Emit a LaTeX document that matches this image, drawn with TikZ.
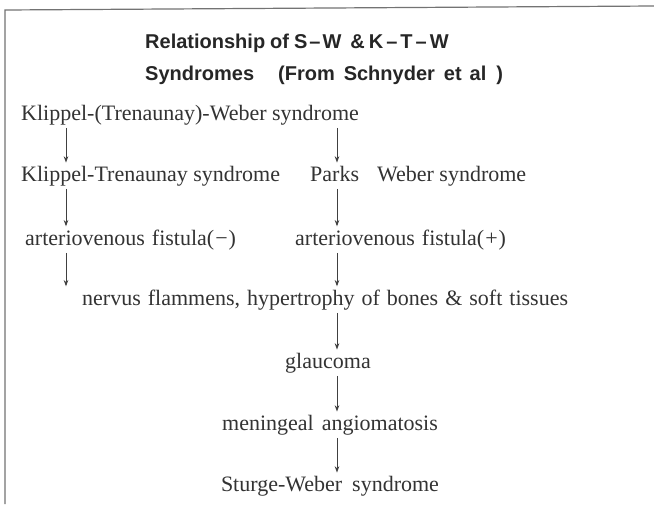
\documentclass[tikz,border=0pt]{standalone}
\usepackage{fontspec}
\setmainfont{Liberation Serif}
\newfontfamily\headfont{Liberation Sans}
\usepackage{tikz}
\usetikzlibrary{arrows.meta,positioning}

\begin{document}
\begin{tikzpicture}[
  x=1pt, y=-1pt,
  font=\fontsize{22}{24}\selectfont,
  lbl/.style={inner sep=0pt, anchor=base west, text=black!80},
  ctr/.style={inner sep=0pt, anchor=base, text=black!80},
  head/.style={inner sep=0pt, anchor=base west, text=black!85,
  font=\headfont\bfseries\fontsize{20}{22}\selectfont},
  arrow/.style={-{Stealth[length=2.2mm,width=1.6mm]}, black!75, line width=0.8pt,
  shorten <=3pt, shorten >=3pt}]
\useasboundingbox (0,0) rectangle (654,504);
\fill[white] (0,0) rectangle (654,504);
% frame of the page
\draw[black!55, line width=1.2pt] (5,504) -- (5,10) -- (654,6);
% columns for the arrows
\coordinate (lcol) at (66,0);
\coordinate (rcol) at (337,0);
\node[head] (ttl1) at (145,48) {Relationship\hspace{5pt}of\hspace{5pt}S\kern2pt–\kern2pt W\hspace{9pt}\&\hspace{4pt}K\kern3pt–\kern3pt T\kern3pt–\kern3pt W};
\node[head] (ttl2) at (145,80) {Syndromes\hspace{24pt}(From\hspace{9pt}Schnyder\hspace{9pt}et\hspace{8pt}al\kern10pt)};
\node[lbl] (ktw) at (21,120) {Klippel-(Trenaunay)-Weber syndrome};
\node[lbl] (kt) at (21,181) {Klippel-Trenaunay syndrome};
\node[lbl] (pw) at (310,181) {Parks\hspace{18pt}Weber syndrome};
\node[lbl] (afneg) at (25,245) {arteriovenous\hspace{7pt}fistula({\kern1pt}−{\kern1pt})};
\node[lbl] (afpos) at (295,245) {arteriovenous\hspace{7pt}fistula({\kern1pt}+{\kern1pt})};
\node[lbl] (nerv) at (82,305) {nervus\hspace{7pt}flammens,\hspace{7pt}hypertrophy\hspace{7pt}of\hspace{7pt}bones\hspace{7pt}\&\hspace{7pt}soft\hspace{7pt}tissues};
\node[ctr] (glau) at (328,368) {glaucoma};
\node[ctr] (meni) at (330,430) {meningeal\hspace{8pt}angiomatosis};
\node[ctr] (sw) at (330,491) {Sturge-Weber\hspace{10pt}syndrome};
% left column
\draw[arrow] (ktw.south -| lcol) -- (kt.north -| lcol);
\draw[arrow] (kt.south -| lcol) -- (afneg.north -| lcol);
\draw[arrow] (afneg.south -| lcol) -- (nerv.north -| lcol);
% right column
\draw[arrow] (ktw.south -| rcol) -- (pw.north -| rcol);
\draw[arrow] (pw.south -| rcol) -- (afpos.north -| rcol);
\draw[arrow] (afpos.south -| rcol) -- (nerv.north -| rcol);
\draw[arrow] (nerv.south -| rcol) -- (glau.north -| rcol);
\draw[arrow] (glau.south -| rcol) -- (meni.north -| rcol);
\draw[arrow] (meni.south -| rcol) -- (sw.north -| rcol);
\end{tikzpicture}
\end{document}
